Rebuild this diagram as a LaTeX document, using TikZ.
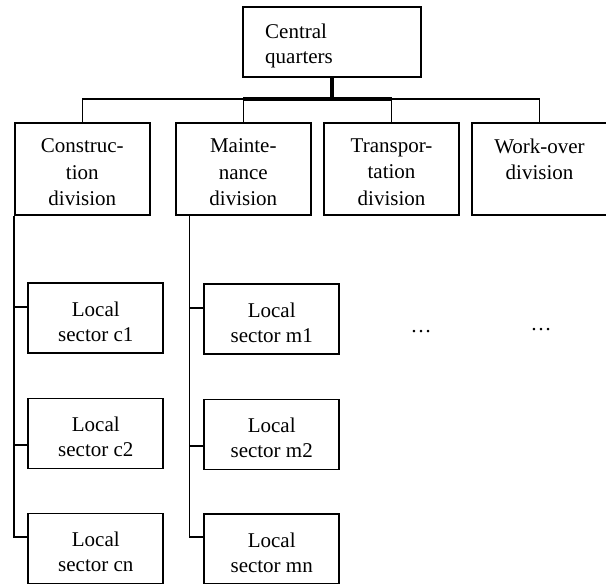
\documentclass[tikz,border=0pt]{standalone}
\usepackage{fontspec}
\setmainfont{Liberation Serif}
\begin{document}
\begin{tikzpicture}[x=1pt,y=-1pt,
  font=\fontsize{21}{26.5}\selectfont,
  box/.style={draw,line width=1.7pt,rectangle,inner sep=0pt,minimum width=135pt},
  divbox/.style={box,minimum height=92pt},
  locbox/.style={box,minimum height=70pt},
  txt/.style={inner sep=0pt,align=center},
  loctxt/.style={txt,font=\fontsize{21}{25}\selectfont},
  conn/.style={line width=1.3pt},
  heavy/.style={line width=3.3pt}]
\useasboundingbox (0,0) rectangle (606,584);
% central
\node[box,minimum width=178pt,minimum height=70pt] (cq) at (332,42) {};
\node[txt,align=left,anchor=west,font=\fontsize{21}{25}\selectfont] (cqt) at (265,45.5) {Central\\quarters};
% divisions
\node[divbox] (d1) at (82.3,169) {};
\node[divbox] (d2) at (243.3,169) {};
\node[divbox] (d3) at (391.5,169) {};
\node[divbox] (d4) at (539.5,169) {};
\node[txt,anchor=north] (d1t) at (82.3,138.5) {Construc-\\tion\\division};
\node[txt,anchor=north] (d2t) at (243.3,138.5) {Mainte-\\nance\\division};
\node[txt,anchor=north] (d3t) at (391.5,138.5) {Transpor-\\tation\\division};
\node[txt,anchor=north] (d4t) at (539.5,138.5) {Work-over\\division};
% local sectors
\node[locbox] (c1) at (95.8,318) {};
\node[locbox] (c2) at (95.8,433.5) {};
\node[locbox] (cn) at (95.8,548.5) {};
\node[locbox] (m1) at (271.7,319) {};
\node[locbox] (m2) at (271.7,434.5) {};
\node[locbox] (mn) at (271.7,549) {};
\node[loctxt] (c1t) at (95.8,321.5) {Local\\sector c1};
\node[loctxt] (c2t) at (95.8,437) {Local\\sector c2};
\node[loctxt] (cnt) at (95.8,552) {Local\\sector cn};
\node[loctxt] (m1t) at (271.7,322.5) {Local\\sector m1};
\node[loctxt] (m2t) at (271.7,438) {Local\\sector m2};
\node[loctxt] (mnt) at (271.7,552.5) {Local\\sector mn};
% ellipses
\node[inner sep=0pt,anchor=base] (e1) at (421,332) {…};
\node[inner sep=0pt,anchor=base] (e2) at (541,330) {…};
% top connectors
\coordinate (hub) at (332,99);
\draw[conn] (d1.north) -- (d1.north |- hub) -- (d4.north |- hub) -- (d4.north);
\draw[conn] (d2.north) -- (d2.north |- hub);
\draw[conn] (d3.north) -- (d3.north |- hub);
\draw[heavy] (d2.north |- hub) -- (d3.north |- hub);
\draw[heavy] (cq.south) -- (hub);
% construction trunk
\coordinate (ctop) at (d1.south west);
\draw[conn] (ctop) |- ([yshift=11.5pt]cn.west);
\draw[conn] ([yshift=11pt]c1.west) -- ([yshift=11pt]c1.west -| ctop);
\draw[conn] ([yshift=-11.5pt]c2.west) -- ([yshift=-11.5pt]c2.west -| ctop);
% maintenance trunk
\coordinate (mtop) at ([xshift=14.4pt]d2.south west);
\draw[conn] (mtop) |- ([yshift=12pt]mn.west);
\draw[conn] ([yshift=11pt]m1.west) -- ([yshift=11pt]m1.west -| mtop);
\draw[conn] ([yshift=-11.5pt]m2.west) -- ([yshift=-11.5pt]m2.west -| mtop);
\end{tikzpicture}
\end{document}
